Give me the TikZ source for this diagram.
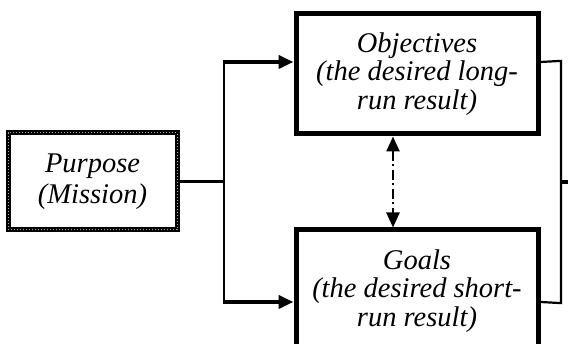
\documentclass[tikz,border=0pt]{standalone}
\usepackage{fontspec}
\setmainfont{Liberation Serif}
\usetikzlibrary{arrows.meta}
\begin{document}
\begin{tikzpicture}[x=1pt,y=1pt,
  box/.style={draw=black, line width=5pt, fill=white, align=center, inner sep=0pt,
    font=\fontsize{28.5}{28.5}\selectfont\itshape},
  dotbox/.style={box, postaction={draw=gray!70, line width=1pt, dash pattern=on 1.2pt off 1.8pt}},
  thin/.style={line width=2.2pt},
  thickarrow/.style={line width=4pt, -{Triangle[length=15pt,width=13pt]}},
  dd/.style={line width=2.5pt, dash pattern=on 10pt off 3.5pt on 2pt off 3.5pt,
    {Triangle[length=15pt,width=13pt]}-{Triangle[length=15pt,width=13pt]}}
]
\useasboundingbox (0,0) rectangle (568,344);
\clip (0,0) rectangle (568,344);
\node[dotbox, minimum width=169pt, minimum height=97pt] (purp) at (92.5,162.5) {Purpose\\[2pt](Mission)};
\node[box, minimum width=242pt, minimum height=120pt] (obj) at (417,270) {Objectives\\(the desired long-\\run result)};
\node[box, minimum width=242pt, minimum height=122pt] (goal) at (417,53) {Goals\\(the desired short-\\run result)};
\coordinate (jl) at (224,162.5);
\coordinate (jlt) at (224,282);
\coordinate (jlb) at (224,42);
\coordinate (jrt) at (561,282);
\coordinate (jrb) at (561,42);
\coordinate (jrm) at (561,162);
\coordinate (stub) at (568,162);
\draw[thin] (purp.east) -- (jl);
\draw[thin] ([yshift=1.1pt]jlt) -- ([yshift=-1.1pt]jlb);
\draw[thickarrow] ([xshift=-1.1pt]jlt) -- (obj.west |- jlt);
\draw[thickarrow] ([xshift=-1.1pt]jlb) -- (goal.west |- jlb);
\draw[thin] (obj.east |- jrt) -- ([yshift=1.1pt]jrt) -- ([yshift=-1.1pt]jrb) -- (goal.east |- jrb);
\draw[line width=4pt] (jrm) -- (stub);
\draw[dd] (obj.south -| 393,0) -- (goal.north -| 393,0);
\end{tikzpicture}
\end{document}
